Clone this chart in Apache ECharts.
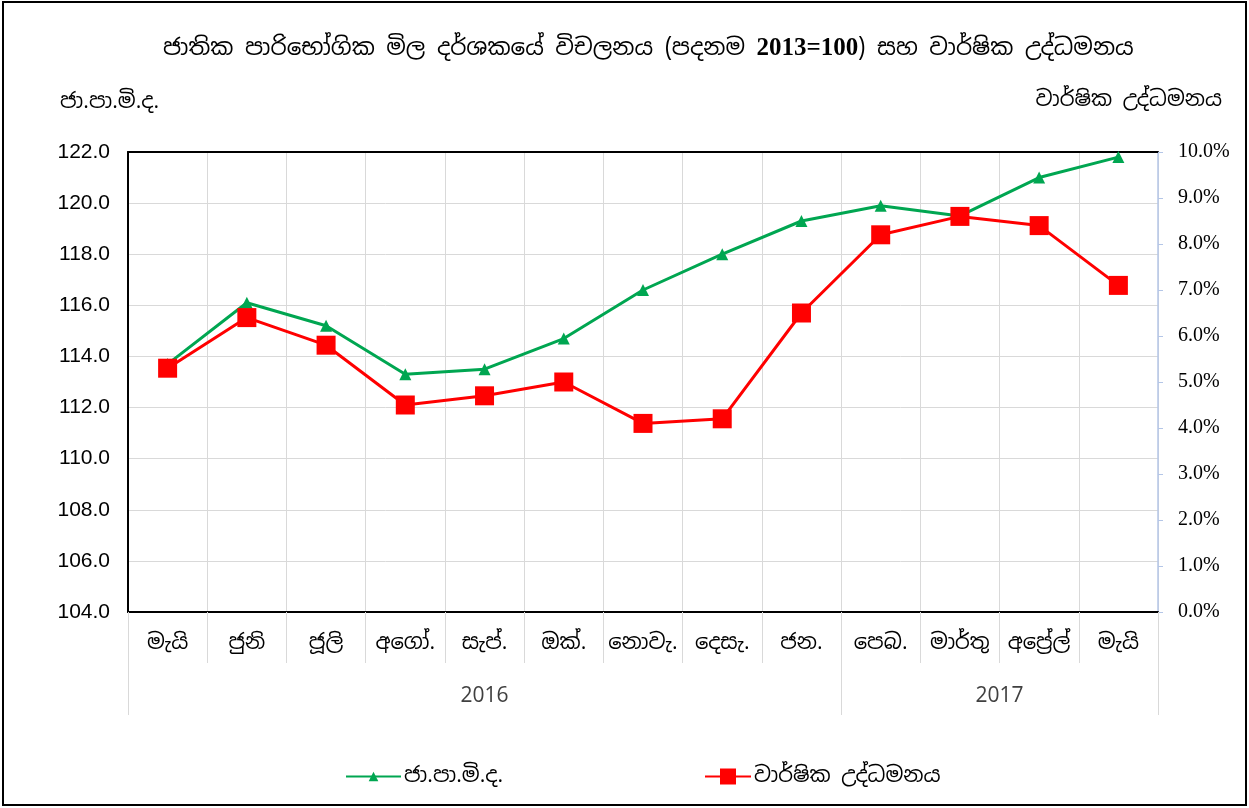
<!DOCTYPE html>
<html>
<head>
<meta charset="utf-8">
<script src="https://cdn.jsdelivr.net/npm/echarts@6/dist/echarts.min.js"></script>
<style>
html,body{margin:0;padding:0;background:#fff;}
#chart{width:1249px;height:808px;}
</style>
</head>
<body>
<div id="chart"></div>
<script>
// ---- data ----
const months = ['මැයි','ජුනි','ජූලි','අගෝ.','සැප්.','ඔක්.','නොවැ.','දෙසැ.','ජන.','පෙබ.','මාර්තු','අප්‍රේල්','මැයි'];
const years = ['2016','2017'];
const monthsPerYear = [9, 4];
const cpi = [113.7,116.1,115.2,113.3,113.5,114.7,116.6,118.0,119.3,119.9,119.5,121.0,121.8];
const inflation = [5.3,6.4,5.8,4.5,4.7,5.0,4.1,4.2,6.5,8.2,8.6,8.4,7.1];
const cpiName = 'ජා.පා.මි.ද.';
const inflName = 'වාර්ෂික උද්ධමනය';
const titleParts = ['ජාතික පාරිභෝගික මිල දර්ශකයේ විචලනය (පදනම ', '2013=100', ') සහ වාර්ෂික උද්ධමනය'];

// year group boundaries / centres derived from counts
const yearBounds = [0];
monthsPerYear.forEach(n => yearBounds.push(yearBounds[yearBounds.length-1] + n));
const yearCenters = years.map((y,i) => (yearBounds[i] + yearBounds[i+1]) / 2);

const sinFont = '"Noto Sans Sinhala","Noto Serif Sinhala","Iskoola Pota","LKLUG",serif';
const chart = echarts.init(document.getElementById('chart'));
chart.setOption({
  backgroundColor: '#fff',
  animation: false,
  title: [
    {text: '{a|' + titleParts[0] + '}{b|' + titleParts[1] + '}{a|' + titleParts[2] + '}', left: 158, top: 31,
     textStyle: {fontFamily: sinFont, fontSize: 23, fontWeight: 'normal', color: '#000',
       rich: {a: {fontFamily: sinFont, fontSize: 23, color: '#000'},
              b: {fontFamily: '"Liberation Serif","Times New Roman",serif', fontWeight: 'bold', fontSize: 25, color: '#000'}}}},
    {text: cpiName, left: 55, top: 87,
     textStyle: {fontFamily: sinFont, fontSize: 21, fontWeight: 'normal', color: '#000'}},
    {text: inflName, right: 22, top: 85,
     textStyle: {fontFamily: sinFont, fontSize: 21, fontWeight: 'normal', color: '#000'}}
  ],
  legend: [
    {data: [cpiName], left: 340, top: 761, itemWidth: 55, itemHeight: 12, itemGap: 4,
     textStyle: {fontFamily: sinFont, fontSize: 21, color: '#000', padding: [0,0,0,-2]}},
    {data: [inflName], left: 699, top: 761, itemWidth: 46, itemHeight: 20,
     textStyle: {fontFamily: sinFont, fontSize: 21, color: '#000', padding: [0,0,0,-2]}}
  ],
  grid: {left: 128, right: 91, top: 152, bottom: 196, containLabel: false},
  xAxis: [
    {type: 'category', data: months, position: 'bottom', boundaryGap: true,
     axisLine: {show: true, lineStyle: {color: '#000', width: 2}},
     axisTick: {show: true, interval: 0, length: 51, lineStyle: {color: '#d9d9d9'}},
     axisLabel: {interval: 0, margin: 21, fontFamily: sinFont, fontSize: 21, color: '#000'},
     splitLine: {show: true, interval: 0, lineStyle: {color: '#d9d9d9'}}},
    {type: 'value', min: 0, max: months.length, position: 'bottom',
     axisLine: {show: false},
     axisTick: {show: true, customValues: yearBounds, length: 103, lineStyle: {color: '#d9d9d9'}},
     axisLabel: {customValues: yearCenters, margin: 74, fontFamily: '"Open Sans","Liberation Sans",sans-serif', fontSize: 21, color: '#404040',
       formatter: v => { const i = yearCenters.indexOf(v); return i >= 0 ? years[i] : ''; }},
     splitLine: {show: false}},
    {type: 'category', data: months, position: 'top',
     axisLine: {show: true, lineStyle: {color: '#000', width: 2}},
     axisTick: {show: false}, axisLabel: {show: false}, splitLine: {show: false}}
  ],
  yAxis: [
    {type: 'value', min: 104, max: 122, interval: 2, position: 'left',
     axisLine: {show: true, lineStyle: {color: '#000', width: 2}},
     axisTick: {show: false},
     axisLabel: {margin: 18, formatter: v => v.toFixed(1), fontFamily: '"Liberation Sans",Arial,sans-serif', fontSize: 21, color: '#000'},
     splitLine: {show: true, lineStyle: {color: '#d9d9d9'}}},
    {type: 'value', min: 0, max: 10, interval: 1, position: 'right',
     axisLine: {show: true, lineStyle: {color: '#b4c6e7', width: 1.5}},
     axisTick: {show: true, length: 5, lineStyle: {color: '#b4c6e7'}},
     axisLabel: {margin: 20, formatter: v => v.toFixed(1) + '%', fontFamily: '"Liberation Serif","Times New Roman",serif', fontSize: 20, color: '#000'},
     splitLine: {show: false}}
  ],
  series: [
    {name: cpiName, type: 'line', xAxisIndex: 0, yAxisIndex: 0, data: cpi,
     symbol: 'triangle', symbolSize: 12, z: 2,
     lineStyle: {color: '#00a651', width: 3}, itemStyle: {color: '#00a651'}},
    {name: inflName, type: 'line', xAxisIndex: 0, yAxisIndex: 1, data: inflation,
     symbol: 'rect', symbolSize: 19, z: 3,
     lineStyle: {color: '#ff0000', width: 3}, itemStyle: {color: '#ff0000'}}
  ],
  graphic: [
    {type: 'rect', shape: {x: 3, y: 2, width: 1243, height: 803},
     style: {fill: 'none', stroke: '#000', lineWidth: 2}, silent: true}
  ]
});
</script>
</body>
</html>
